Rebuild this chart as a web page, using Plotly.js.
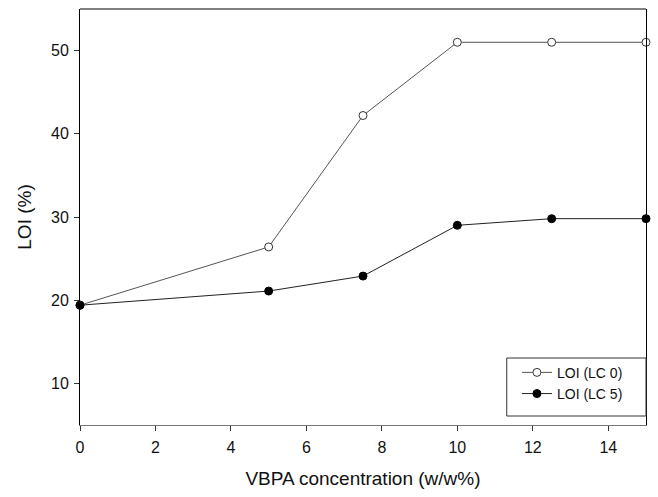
<!DOCTYPE html>
<html>
<head>
<meta charset="utf-8">
<script src="https://cdn.plot.ly/plotly-3.0.1.min.js"></script>
<style>html,body{margin:0;padding:0;background:#fff;}#chart{width:658px;height:497px;}</style>
</head>
<body>
<div id="chart"></div>
<script>
const concentration = [0, 5, 7.5, 10, 12.5, 15];
const loiLC0 = [19.4, 26.4, 42.2, 51.0, 51.0, 51.0];
const loiLC5 = [19.4, 21.1, 22.9, 29.0, 29.8, 29.8];
const seriesNames = ["LOI (LC 0)", "LOI (LC 5)"];
const xTicks = [0, 2, 4, 6, 8, 10, 12, 14];
const yTicks = [10, 20, 30, 40, 50];

const traces = [
  {
    x: concentration, y: loiLC0, name: seriesNames[0], type: 'scatter', mode: 'lines+markers',
    line: {color: '#555555', width: 1},
    marker: {symbol: 'circle', size: 8, color: '#ffffff', line: {color: '#333333', width: 1}},
    cliponaxis: false
  },
  {
    x: concentration, y: loiLC5, name: seriesNames[1], type: 'scatter', mode: 'lines+markers',
    line: {color: '#222222', width: 1},
    marker: {symbol: 'circle', size: 8, color: '#000000', line: {color: '#000000', width: 1}},
    cliponaxis: false
  }
];

const layout = {
  width: 658, height: 497,
  margin: {l: 80, r: 12, t: 9, b: 72},
  paper_bgcolor: '#ffffff', plot_bgcolor: '#ffffff',
  font: {family: 'Liberation Sans, Arial, sans-serif', size: 14, color: '#111111'},
  showlegend: true,
  legend: {
    x: 0.772, xanchor: 'left', y: 0.164, yanchor: 'top',
    borderwidth: 0, bgcolor: 'rgba(0,0,0,0)',
    font: {size: 14, color: '#111111'}, tracegroupgap: 0, itemwidth: 30
  },
  xaxis: {
    range: [0, 15], tickvals: xTicks, ticktext: xTicks.map(String),
    showgrid: false, zeroline: false, showline: true, linecolor: '#777777', linewidth: 1,
    ticks: 'outside', ticklen: 5, tickcolor: '#333333',
    tickfont: {family: 'Liberation Sans, Arial, sans-serif', size: 16, color: '#111111'},
    ticklabelstandoff: 3,
    title: {text: 'VBPA concentration (w/w%)', font: {size: 19}, standoff: 16}
  },
  yaxis: {
    range: [5, 55], tickvals: yTicks, ticktext: yTicks.map(String),
    showgrid: false, zeroline: false, showline: true, linecolor: '#000000', linewidth: 1, mirror: true,
    ticks: 'outside', ticklen: 5, tickcolor: '#333333',
    tickfont: {family: 'Liberation Sans, Arial, sans-serif', size: 16, color: '#111111'},
    ticklabelstandoff: 2,
    title: {text: 'LOI (%)', font: {size: 19}, standoff: 14}
  },
  shapes: [
    {type: 'line', xref: 'paper', yref: 'paper', x0: 0, x1: 1, y0: 1, y1: 1, line: {color: '#000000', width: 1}},
    {type: 'rect', xref: 'paper', yref: 'paper', x0: 0.754, x1: 1, y0: 0.0216, y1: 0.161,
     line: {color: '#333333', width: 1}, fillcolor: 'rgba(0,0,0,0)'}
  ]
};

Plotly.newPlot('chart', traces, layout, {displayModeBar: false, staticPlot: true});
</script>
</body>
</html>
